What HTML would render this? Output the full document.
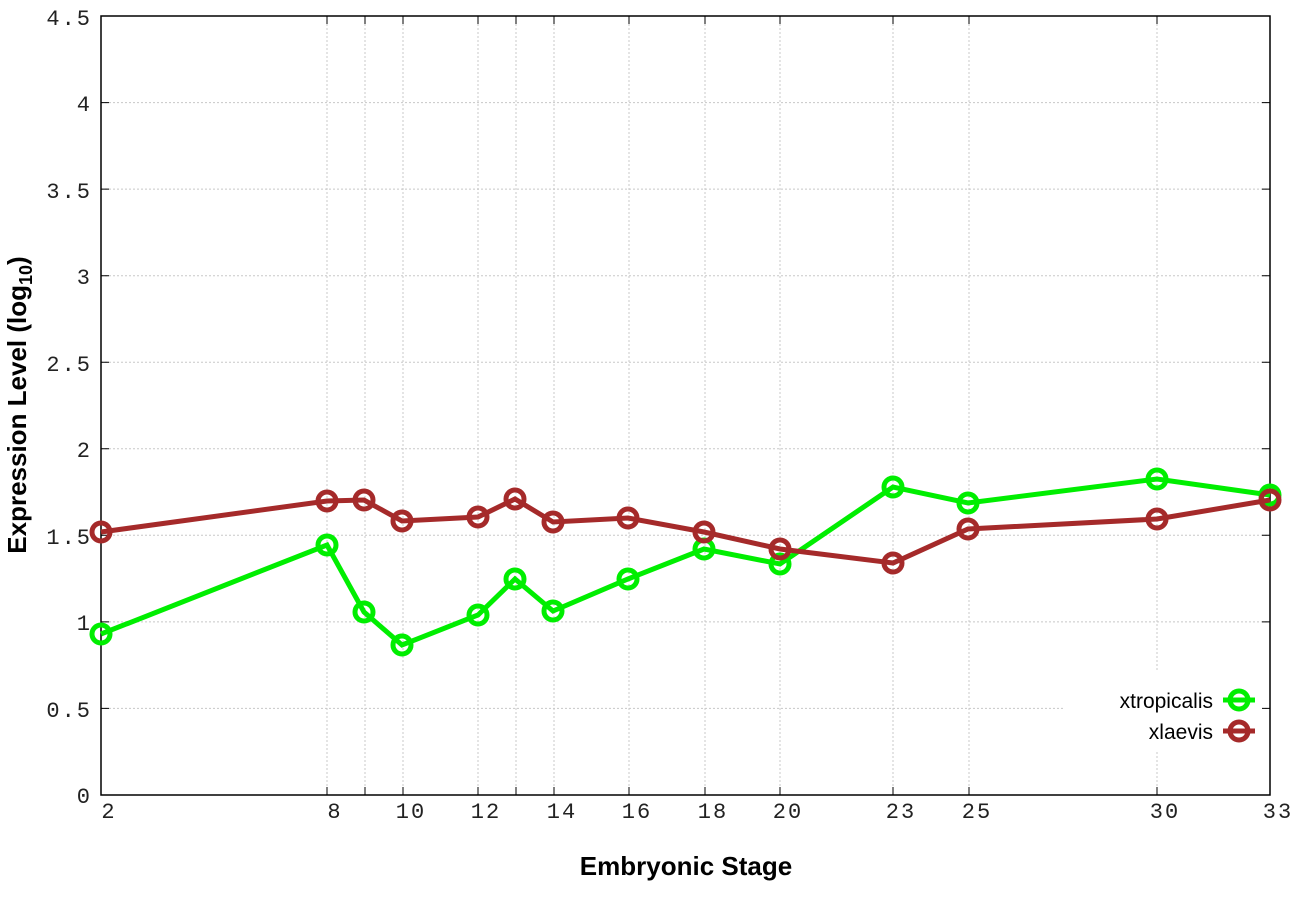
<!DOCTYPE html>
<html><head><style>body{margin:0;background:#fff}</style></head><body>
<svg width="1296" height="907" xmlns="http://www.w3.org/2000/svg">
<rect width="1296" height="907" fill="#fff"/>
<g stroke="#c8c8c8" stroke-width="1" stroke-dasharray="2,2">
<line x1="101" x2="1270" y1="708.4" y2="708.4"/><line x1="101" x2="1270" y1="621.9" y2="621.9"/><line x1="101" x2="1270" y1="535.3" y2="535.3"/><line x1="101" x2="1270" y1="448.8" y2="448.8"/><line x1="101" x2="1270" y1="362.2" y2="362.2"/><line x1="101" x2="1270" y1="275.7" y2="275.7"/><line x1="101" x2="1270" y1="189.1" y2="189.1"/><line x1="101" x2="1270" y1="102.6" y2="102.6"/>
<line x1="327" x2="327" y1="16" y2="795"/><line x1="365" x2="365" y1="16" y2="795"/><line x1="403" x2="403" y1="16" y2="795"/><line x1="478" x2="478" y1="16" y2="795"/><line x1="516" x2="516" y1="16" y2="795"/><line x1="554" x2="554" y1="16" y2="795"/><line x1="629" x2="629" y1="16" y2="795"/><line x1="705" x2="705" y1="16" y2="795"/><line x1="780" x2="780" y1="16" y2="795"/><line x1="893" x2="893" y1="16" y2="795"/><line x1="969" x2="969" y1="16" y2="795"/><line x1="1157" x2="1157" y1="16" y2="795"/>
</g>
<rect x="1065" y="672" width="200" height="80" fill="#fff"/>
<rect x="101" y="16" width="1169" height="779" fill="none" stroke="#000" stroke-width="1.5"/>
<g stroke="#000" stroke-width="1">
<path d="M101 708.4h8M101 621.9h8M101 535.3h8M101 448.8h8M101 362.2h8M101 275.7h8M101 189.1h8M101 102.6h8M1270 708.4h-8M1270 621.9h-8M1270 535.3h-8M1270 448.8h-8M1270 362.2h-8M1270 275.7h-8M1270 189.1h-8M1270 102.6h-8"/>
<path d="M327 795v-8M365 795v-8M403 795v-8M478 795v-8M516 795v-8M554 795v-8M629 795v-8M705 795v-8M780 795v-8M893 795v-8M969 795v-8M1157 795v-8M327 16v8M365 16v8M403 16v8M478 16v8M516 16v8M554 16v8M629 16v8M705 16v8M780 16v8M893 16v8M969 16v8M1157 16v8"/>
</g>
<g font-family="Liberation Mono, monospace" font-size="22" fill="#222" text-anchor="end" letter-spacing="2">
<text x="92" y="803">0</text><text x="92" y="717">0.5</text><text x="92" y="630">1</text><text x="92" y="544">1.5</text><text x="92" y="457">2</text><text x="92" y="371">2.5</text><text x="92" y="284">3</text><text x="92" y="198">3.5</text><text x="92" y="111">4</text><text x="92" y="25">4.5</text>
</g>
<g font-family="Liberation Mono, monospace" font-size="22" fill="#222" text-anchor="middle" letter-spacing="2">
<text x="109" y="818">2</text><text x="335" y="818">8</text><text x="411" y="818">10</text><text x="486" y="818">12</text><text x="562" y="818">14</text><text x="637" y="818">16</text><text x="713" y="818">18</text><text x="788" y="818">20</text><text x="901" y="818">23</text><text x="977" y="818">25</text><text x="1165" y="818">30</text><text x="1278" y="818">33</text>
</g>
<text x="686" y="875" font-family="Liberation Sans, sans-serif" font-size="26" font-weight="bold" text-anchor="middle">Embryonic Stage</text>
<text transform="translate(26,405) rotate(-90)" font-family="Liberation Sans, sans-serif" font-size="26" font-weight="bold" text-anchor="middle">Expression Level (log<tspan font-size="18" dy="6">10</tspan><tspan dy="-6">)</tspan></text>
<g fill="none" stroke-width="5">
<polyline stroke="#00ee00" points="101,634 327,545 364,612 402,645 478,615 515,579 553,611 628,579 704,549 780,564 893,487 968,503 1157,479 1270,495"/>
<g stroke="#00ee00"><circle cx="101" cy="634" r="9"/><circle cx="327" cy="545" r="9"/><circle cx="364" cy="612" r="9"/><circle cx="402" cy="645" r="9"/><circle cx="478" cy="615" r="9"/><circle cx="515" cy="579" r="9"/><circle cx="553" cy="611" r="9"/><circle cx="628" cy="579" r="9"/><circle cx="704" cy="549" r="9"/><circle cx="780" cy="564" r="9"/><circle cx="893" cy="487" r="9"/><circle cx="968" cy="503" r="9"/><circle cx="1157" cy="479" r="9"/><circle cx="1270" cy="495" r="9"/></g>
<polyline stroke="#a52a2a" points="101,532 327,501 364,500 402,521 478,517 515,499 553,522 628,518 704,532 780,549 893,563 968,529 1157,519 1270,500"/>
<g stroke="#a52a2a"><circle cx="101" cy="532" r="9"/><circle cx="327" cy="501" r="9"/><circle cx="364" cy="500" r="9"/><circle cx="402" cy="521" r="9"/><circle cx="478" cy="517" r="9"/><circle cx="515" cy="499" r="9"/><circle cx="553" cy="522" r="9"/><circle cx="628" cy="518" r="9"/><circle cx="704" cy="532" r="9"/><circle cx="780" cy="549" r="9"/><circle cx="893" cy="563" r="9"/><circle cx="968" cy="529" r="9"/><circle cx="1157" cy="519" r="9"/><circle cx="1270" cy="500" r="9"/></g>
<path stroke="#00ee00" d="M1223 700h32"/><circle stroke="#00ee00" cx="1239" cy="700" r="9"/>
<path stroke="#a52a2a" d="M1223 731h32"/><circle stroke="#a52a2a" cx="1239" cy="731" r="9"/>
</g>
<g font-family="Liberation Sans, sans-serif" font-size="21" text-anchor="end">
<text x="1213" y="708">xtropicalis</text><text x="1213" y="739">xlaevis</text>
</g>
</svg>
</body></html>
